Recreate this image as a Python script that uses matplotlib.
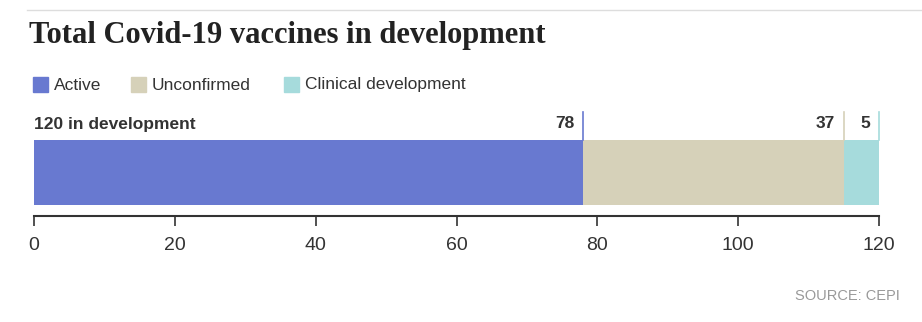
import matplotlib.pyplot as plt

# Dati
categories = ['Active', 'Unconfirmed', 'Clinical development']
values = [78, 37, 5]
colors = ['#6879d0', '#d6d1b9', '#a6dbdc']
total_label = '120 in development'
ticks = [0, 20, 40, 60, 80, 100, 120]

narrow = 'Liberation Sans'

fig = plt.figure(figsize=(9.22, 3.22), dpi=100)
fig.patch.set_facecolor('white')

# linea in alto
fig.add_artist(plt.Line2D([27 / 922, 1], [1 - 10 / 322, 1 - 10 / 322], color='#dddddd', lw=1))

# titolo
fig.text(29 / 922, 1 - 35 / 322, 'Total Covid-19 vaccines in development', family='Liberation Serif',
         weight='bold', fontsize=22, color='#222222', va='center', ha='left')

# legenda
lx = [33, 131, 284]
for x, c, lab in zip(lx, colors, categories):
    fig.patches.append(plt.Rectangle((x / 922, 1 - 92 / 322), 15 / 922, 15 / 322,
                                     transform=fig.transFigure, color=c))
    fig.text((x + 21) / 922, 1 - 85 / 322, lab, family=narrow, fontsize=12.5,
             color='#333333', va='center', ha='left')

ax = fig.add_axes([34 / 922, 106 / 322, 845 / 922, 104 / 322])
ax.set_xlim(0, 120)
ax.set_ylim(0, 104)

left = 0
for v, c in zip(values, colors):
    ax.barh(43.5, v, left=left, height=65, color=c, edgecolor='none')
    right = left + v
    ax.plot([right, right], [76, 104], color=c, lw=1.2, clip_on=False)
    ax.text(right - 1.3, 92, str(v), family=narrow, fontsize=12.5, weight='bold',
            color='#333333', ha='right', va='center')
    left = right

ax.text(0, 92, total_label, family=narrow, fontsize=12.5, weight='bold',
        color='#333333', ha='left', va='center')

for s in ['top', 'left', 'right']:
    ax.spines[s].set_visible(False)
ax.spines['bottom'].set_color('#333333')
ax.spines['bottom'].set_linewidth(1.5)
ax.set_yticks([])
ax.set_xticks(ticks)
ax.tick_params(axis='x', length=7, width=1.2, color='#333333', labelsize=14, pad=8,
               labelcolor='#333333')
for t in ax.get_xticklabels():
    t.set_family(narrow)

fig.text(900 / 922, 1 - 296 / 322, 'SOURCE: CEPI', family=narrow, fontsize=10.5,
         color='#999999', ha='right', va='center')

fig.savefig('out.png', dpi=100)
